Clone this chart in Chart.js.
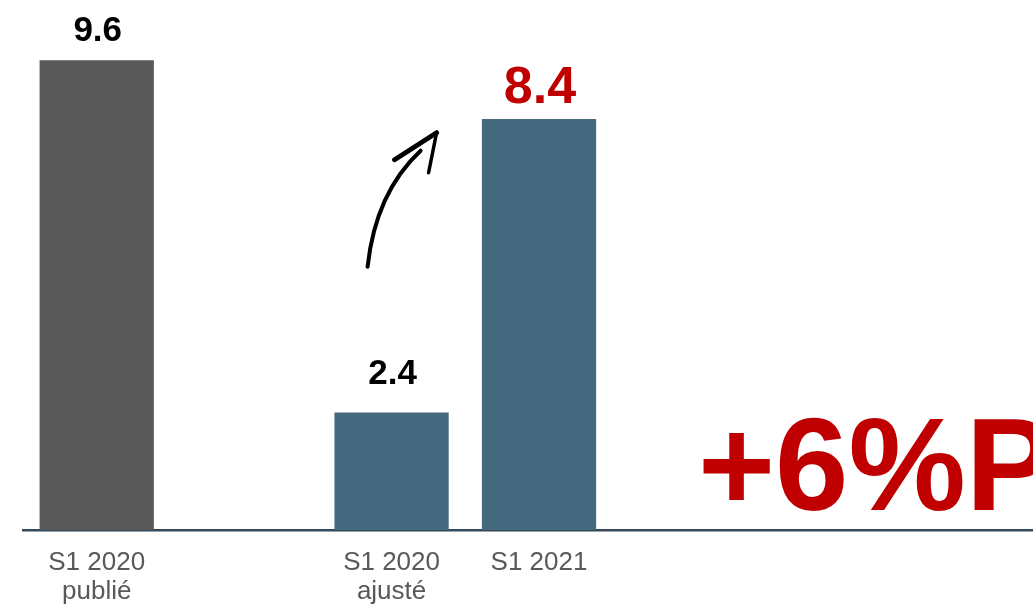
<!DOCTYPE html>
<html>
<head>
<meta charset="utf-8">
<script src="https://cdn.jsdelivr.net/npm/chart.js@4/dist/chart.umd.min.js"></script>
<style>
  html, body { margin: 0; padding: 0; background: #ffffff; overflow: hidden; }
  #wrap { width: 1055px; height: 604px; position: relative; }
</style>
</head>
<body>
<div id="wrap"><canvas id="c"></canvas></div>
<script>
// Periods on the x axis (empty slots keep the spacing between groups)
const categories = [
  ['S1 2020', 'publié'],
  '',
  ['S1 2020', 'ajusté'],
  'S1 2021',
  '',
  '',
  ''
];
// Values per period
const values = [9.6, null, 2.4, 8.4, null, null, null];
// Text shown above each bar
const valueLabels = ['9.6', '', '2.4', '8.4', '', '', ''];
// Headline change
const changeText = '+6%P';

const FONT = "'Liberation Sans', Arial, Helvetica, sans-serif";
const barColors = ['#595959', '#595959', '#456a80', '#456a80', '#456a80', '#456a80', '#456a80'];
const labelStyle = [
  { color: '#000000', size: 35, gap: 19 },
  null,
  { color: '#000000', size: 35, gap: 29 },
  { color: '#c00000', size: 52, gap: 16 }
];

const overlay = {
  id: 'overlay',
  afterDatasetsDraw(chart) {
    const ctx = chart.ctx;
    const meta = chart.getDatasetMeta(0);
    ctx.save();
    ctx.textAlign = 'center';
    ctx.textBaseline = 'alphabetic';
    meta.data.forEach((bar, i) => {
      const st = labelStyle[i];
      if (!st || values[i] == null) return;
      ctx.fillStyle = st.color;
      ctx.font = 'bold ' + st.size + 'px ' + FONT;
      ctx.fillText(valueLabels[i], bar.x + 1, bar.y - st.gap);
    });

    // curved arrow rising from the adjusted bar toward the 2021 bar
    const x = chart.scales.x, y = chart.scales.y;
    const sx = x.getPixelForValue(2) - 24, sy = y.getPixelForValue(5.4) + 1;
    ctx.strokeStyle = '#000000';
    ctx.lineCap = 'round';
    ctx.lineJoin = 'round';
    ctx.lineWidth = 4;
    ctx.beginPath();
    ctx.moveTo(sx, sy);
    ctx.quadraticCurveTo(sx + 8, sy - 74, sx + 53, sy - 116);
    ctx.stroke();
    ctx.lineWidth = 5;
    ctx.beginPath();
    ctx.moveTo(sx + 27, sy - 107);
    ctx.lineTo(sx + 69, sy - 134);
    ctx.stroke();
    ctx.lineWidth = 3.5;
    ctx.beginPath();
    ctx.moveTo(sx + 69, sy - 134);
    ctx.lineTo(sx + 61, sy - 94);
    ctx.stroke();

    // headline change value
    ctx.textAlign = 'left';
    ctx.fillStyle = '#c00000';
    ctx.font = 'bold 132px ' + FONT;
    ctx.fillText(changeText, 698, y.getPixelForValue(0) - 20);
    ctx.restore();
  }
};

new Chart(document.getElementById('c'), {
  type: 'bar',
  data: {
    labels: categories,
    datasets: [{
      data: values,
      backgroundColor: barColors,
      borderWidth: 0,
      barPercentage: 0.775,
      categoryPercentage: 1.0
    }]
  },
  options: {
    responsive: true,
    maintainAspectRatio: false,
    animation: false,
    layout: { padding: { left: 23, right: 0, top: 0, bottom: 0 } },
    plugins: { legend: { display: false }, tooltip: { enabled: false } },
    scales: {
      x: {
        grid: { display: false, drawTicks: false },
        border: { display: true, color: '#34495a', width: 2.5 },
        ticks: {
          color: '#595959',
          font: { family: FONT, size: 26, lineHeight: 1.1 },
          padding: 19,
          maxRotation: 0,
          autoSkip: false
        },
        afterFit(scale) { scale.height = 74; }
      },
      y: {
        display: false,
        min: 0,
        max: 10.83
      }
    }
  },
  plugins: [overlay]
});
</script>
</body>
</html>
